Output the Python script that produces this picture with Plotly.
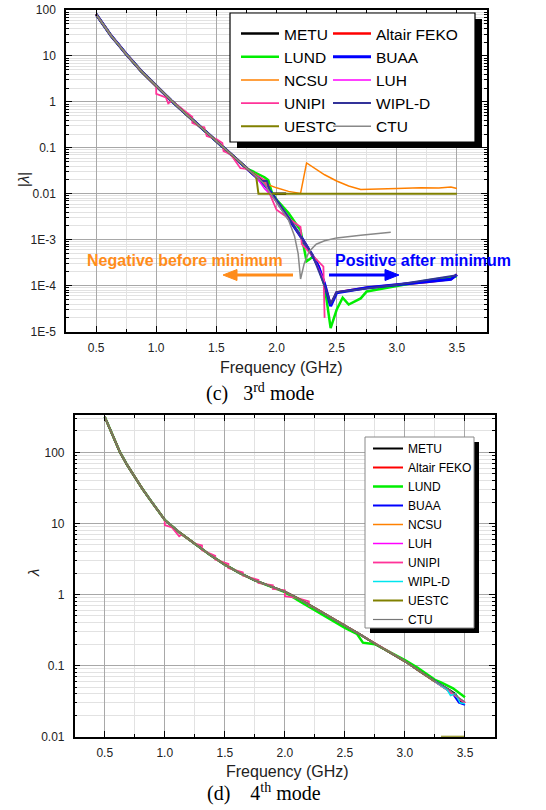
import plotly.graph_objects as go

W, H = 546, 810
FONT = "Liberation Sans, Arial, sans-serif"
SERIF = "Liberation Serif, Times New Roman, serif"

def px(x):
    return x / W

def py(y):
    return 1 - y / H

# ---------------- (c) 3rd mode : |lambda| ----------------
F_C_COMMON = [0.5, 0.5625, 0.625, 0.6875, 0.75, 0.875, 1.0, 1.125, 1.25, 1.375, 1.5, 1.625, 1.75]
L_C_COMMON = [81, 46, 27.5, 17.5, 11.0, 4.7, 2.2, 1.07, 0.54, 0.275, 0.141, 0.071, 0.0355]

F_C_METU = [1.8, 1.85, 1.88, 1.93, 1.95, 2.08]
L_C_METU = [0.028, 0.023, 0.019, 0.019, 0.01, 0.01]

F_C_FEKO = [1.8, 1.85, 1.9, 1.95, 2.0, 2.1, 2.2, 2.3, 2.35, 2.4, 2.45, 2.5, 2.75, 3.0, 3.25, 3.45, 3.5]
L_C_FEKO = [0.028, 0.021, 0.016, 0.011, 0.007, 0.003, 0.0012, 4.5e-4, 2.6e-4, 1.1e-4, 3.8e-5, 7.2e-5, 9e-5, 1.05e-4, 1.2e-4, 1.4e-4, 1.75e-4]

F_C_LUND = [1.8, 1.85, 1.9, 1.93, 1.96, 2.0, 2.1, 2.2, 2.25, 2.3, 2.33, 2.4, 2.45, 2.5, 2.55, 2.6, 2.7, 2.75, 3.0, 3.25, 3.5]
L_C_LUND = [0.031, 0.027, 0.023, 0.02, 0.011, 0.0075, 0.0038, 0.0016, 3.4e-4, 4.2e-4, 3.6e-4, 1.0e-4, 1.2e-5, 3e-5, 5.5e-5, 3.9e-5, 5.3e-5, 7.5e-5, 1.0e-4, 1.3e-4, 1.6e-4]

F_C_BUAA = [1.8, 1.85, 1.9, 1.95, 2.0, 2.1, 2.2, 2.3, 2.35, 2.4, 2.45, 2.5, 2.75, 3.0, 3.25, 3.45, 3.5]
L_C_BUAA = [0.028, 0.021, 0.016, 0.011, 0.007, 0.003, 0.0012, 4.5e-4, 2.6e-4, 1.1e-4, 3.6e-5, 7.0e-5, 9e-5, 1.05e-4, 1.2e-4, 1.38e-4, 1.75e-4]

F_C_NCSU = [1.8, 1.85, 1.9, 2.0, 2.1, 2.2, 2.25, 2.3, 2.4, 2.5, 2.6, 2.7, 2.8, 3.0, 3.2, 3.35, 3.45, 3.5]
L_C_NCSU = [0.028, 0.021, 0.017, 0.0135, 0.0113, 0.0102, 0.047, 0.038, 0.026, 0.019, 0.0148, 0.0124, 0.0125, 0.013, 0.0136, 0.0134, 0.014, 0.013]

F_C_LUH = [1.8, 1.85, 1.9, 1.95, 2.0, 2.1, 2.2, 2.3, 2.4]
L_C_LUH = [0.028, 0.02, 0.013, 0.0095, 0.007, 0.0032, 0.0012, 4.5e-4, 1.2e-4]

F_C_UNIPI = [0.5, 0.5625, 0.625, 0.6875, 0.75, 0.875, 1.0, 1.0, 1.08, 1.1, 1.13, 1.25, 1.3, 1.3, 1.37, 1.4, 1.42,
             1.5, 1.55, 1.56, 1.62, 1.7, 1.75, 1.85, 1.9, 1.92, 2.0, 2.2, 2.21, 2.3, 2.39, 2.4]
L_C_UNIPI = [81, 46, 27.5, 17.5, 11.0, 4.7, 2.19, 1.5, 1.25, 0.93, 1.05, 0.6, 0.47, 0.35, 0.29, 0.28, 0.18,
             0.155, 0.128, 0.085, 0.072, 0.036, 0.035, 0.024, 0.02, 0.014, 0.0045, 0.0019, 0.0008, 4.5e-4, 2.6e-4, 2e-5]

F_C_WIPL = [1.8, 1.85, 1.88, 1.92, 1.95, 2.0, 2.1, 2.2, 2.3, 2.4, 2.45, 2.5, 3.0, 3.5]
L_C_WIPL = [0.028, 0.022, 0.019, 0.019, 0.0105, 0.0072, 0.0031, 0.0012, 4.6e-4, 1e-4, 4e-5, 7.2e-5, 1.05e-4, 1.7e-4]

F_C_UESTC = [1.8, 1.83, 1.85, 3.5]
L_C_UESTC = [0.028, 0.025, 0.01, 0.01]

F_C_CTU = [1.8, 1.85, 1.9, 2.0, 2.1, 2.15, 2.18, 2.2, 2.23, 2.27, 2.33, 2.4, 2.5, 2.7, 2.95]
L_C_CTU = [0.028, 0.022, 0.016, 0.0065, 0.0027, 0.0012, 5e-4, 1.4e-4, 3e-4, 5.5e-4, 8e-4, 9.5e-4, 1.1e-3, 1.25e-3, 1.45e-3]

Y_C_TICKS = [1e-5, 1e-4, 1e-3, 0.01, 0.1, 1, 10, 100]
Y_C_TEXT = ["1E-5", "1E-4", "1E-3", "0.01", "0.1", "1", "10", "100"]

# ---------------- (d) 4th mode : lambda ----------------
F_D_COMMON = [0.5, 0.5625, 0.625, 0.6875, 0.75, 0.8125, 0.875, 0.9375, 1.0, 1.125, 1.25, 1.375, 1.5, 1.625,
              1.75, 1.875, 2.0, 2.125, 2.25, 2.375, 2.5, 2.625, 2.75, 2.875, 3.0, 3.125, 3.25]
L_D_COMMON = [316, 174, 102, 66, 44.7, 30.9, 21.9, 15.5, 11.2, 7.41, 5.13, 3.63, 2.63, 2.0,
              1.58, 1.32, 1.10, 0.851, 0.646, 0.49, 0.363, 0.275, 0.204, 0.155, 0.115, 0.083, 0.060]

F_D_METU = [3.375, 3.42, 3.46, 3.5]
L_D_METU = [0.045, 0.040, 0.031, 0.030]
F_D_FEKO = [3.375, 3.5]
L_D_FEKO = [0.043, 0.0295]
F_D_BUAA = [3.35, 3.4, 3.45, 3.5]
L_D_BUAA = [0.047, 0.040, 0.030, 0.028]
F_D_NCSU = [3.375, 3.5]
L_D_NCSU = [0.043, 0.030]
F_D_LUH = [3.375, 3.5]
L_D_LUH = [0.043, 0.030]
F_D_WIPL = [3.35, 3.38, 3.42, 3.46, 3.5]
L_D_WIPL = [0.046, 0.038, 0.040, 0.030, 0.029]
F_D_CTU = [3.375, 3.45, 3.5]
L_D_CTU = [0.045, 0.035, 0.031]
F_D_UESTC = [3.25, 3.3, 3.5]
L_D_UESTC = [None, 0.01, 0.01]

F_D_LUND = [0.5, 0.5625, 0.625, 0.6875, 0.75, 0.8125, 0.875, 0.9375, 1.0, 1.125, 1.25, 1.375, 1.5, 1.625,
            1.75, 1.875, 2.0, 2.125, 2.25, 2.375, 2.5, 2.6, 2.65, 2.75, 2.875, 3.0, 3.1, 3.25, 3.3, 3.4, 3.5]
L_D_LUND = [316, 174, 102, 66, 44.7, 30.9, 21.9, 15.5, 11.2, 7.41, 5.13, 3.63, 2.63, 2.0,
            1.58, 1.32, 1.08, 0.80, 0.60, 0.46, 0.34, 0.28, 0.21, 0.20, 0.155, 0.12, 0.095, 0.063, 0.058, 0.048, 0.036]

F_D_UNIPI = [0.5, 0.5625, 0.625, 0.6875, 0.75, 0.8125, 0.875, 0.9375, 1.0, 1.0, 1.06, 1.12, 1.14, 1.25, 1.31, 1.31,
             1.42, 1.42, 1.53, 1.53, 1.65, 1.65, 1.78, 1.78, 1.9, 1.9, 2.0, 2.0, 2.1, 2.2, 2.2, 2.25,
             2.375, 2.5, 2.625, 2.75, 2.875, 3.0, 3.125, 3.25, 3.375, 3.5]
L_D_UNIPI = [316, 174, 102, 66, 44.7, 30.9, 21.9, 15.5, 11.2, 9.5, 8.8, 6.6, 7.0, 5.2, 4.9, 4.2,
             3.5, 3.1, 2.7, 2.35, 2.05, 1.85, 1.6, 1.45, 1.35, 1.2, 1.15, 0.95, 0.9, 0.8, 0.7, 0.65,
             0.49, 0.363, 0.275, 0.204, 0.155, 0.115, 0.083, 0.060, 0.043, 0.030]

Y_D_TICKS = [0.01, 0.1, 1, 10, 100]
Y_D_TEXT = ["0.01", "0.1", "1", "10", "100"]

NAMES = ["METU", "Altair FEKO", "LUND", "BUAA", "NCSU", "LUH", "UNIPI", "WIPL-D", "UESTC", "CTU"]
COL_C = ["#000000", "#ff0000", "#00ee00", "#0000ff", "#ff8000", "#ff00ff", "#ff3399", "#333399", "#808000", "#888888"]
COL_D = ["#000000", "#ff0000", "#00ee00", "#0000ff", "#ff8000", "#ff00ff", "#ff3399", "#00e5ee", "#808000", "#777777"]
WID_C = [2.5, 2.5, 2.5, 3.0, 1.5, 1.5, 1.8, 2.0, 2.0, 1.5]
WID_D = [2.0, 2.0, 2.5, 2.0, 1.5, 1.5, 1.8, 1.5, 2.0, 1.2]

series_c = {
    "METU": (F_C_COMMON + F_C_METU, L_C_COMMON + L_C_METU),
    "Altair FEKO": (F_C_COMMON + F_C_FEKO, L_C_COMMON + L_C_FEKO),
    "LUND": (F_C_COMMON + F_C_LUND, L_C_COMMON + L_C_LUND),
    "BUAA": (F_C_COMMON + F_C_BUAA, L_C_COMMON + L_C_BUAA),
    "NCSU": (F_C_COMMON + F_C_NCSU, L_C_COMMON + L_C_NCSU),
    "LUH": (F_C_COMMON + F_C_LUH, L_C_COMMON + L_C_LUH),
    "UNIPI": (F_C_UNIPI, L_C_UNIPI),
    "WIPL-D": (F_C_COMMON + F_C_WIPL, L_C_COMMON + L_C_WIPL),
    "UESTC": (F_C_COMMON + F_C_UESTC, L_C_COMMON + L_C_UESTC),
    "CTU": (F_C_COMMON + F_C_CTU, L_C_COMMON + L_C_CTU),
}
series_d = {
    "METU": (F_D_COMMON + F_D_METU, L_D_COMMON + L_D_METU),
    "Altair FEKO": (F_D_COMMON + F_D_FEKO, L_D_COMMON + L_D_FEKO),
    "LUND": (F_D_LUND, L_D_LUND),
    "BUAA": (F_D_COMMON + F_D_BUAA, L_D_COMMON + L_D_BUAA),
    "NCSU": (F_D_COMMON + F_D_NCSU, L_D_COMMON + L_D_NCSU),
    "LUH": (F_D_COMMON + F_D_LUH, L_D_COMMON + L_D_LUH),
    "UNIPI": (F_D_UNIPI, L_D_UNIPI),
    "WIPL-D": (F_D_COMMON + F_D_WIPL, L_D_COMMON + L_D_WIPL),
    "UESTC": (F_D_COMMON + F_D_UESTC, L_D_COMMON + L_D_UESTC),
    "CTU": (F_D_COMMON + F_D_CTU, L_D_COMMON + L_D_CTU),
}

LEFT_COL = {"METU", "LUND", "NCSU", "UNIPI", "UESTC"}

fig = go.Figure()
for i, n in enumerate(NAMES):
    fx, fy = series_c[n]
    fig.add_trace(go.Scatter(
        x=fx, y=fy, mode="lines", name=n, xaxis="x", yaxis="y",
        line=dict(color=COL_C[i], width=WID_C[i]),
        legend="legend" if n in LEFT_COL else "legend2",
        connectgaps=False,
    ))
for i, n in enumerate(NAMES):
    fx, fy = series_d[n]
    fig.add_trace(go.Scatter(
        x=fx, y=fy, mode="lines", name=n, xaxis="x2", yaxis="y2",
        line=dict(color=COL_D[i], width=WID_D[i]),
        legend="legend3", connectgaps=False,
    ))

GRID = "#a8a8a8"
MINGRID = "#e2e2e2"
tickfont = dict(family=FONT, size=12, color="#222222")

def xax(domain, anchor):
    return dict(
        domain=domain, anchor=anchor, range=[0.25, 3.75], tick0=0.5, dtick=0.5, tickformat=".1f",
        ticks="inside", ticklen=6, tickwidth=1, tickcolor="#000000",
        showline=True, linecolor="#000000", linewidth=1.5, mirror="allticks",
        showgrid=True, gridcolor=GRID, gridwidth=1, zeroline=False, automargin=False,
        tickfont=tickfont, ticklabelstandoff=4, ticklabeloverflow="allow",
        minor=dict(tick0=0.25, dtick=0.25, ticks="inside", ticklen=3, tickcolor="#000000",
                   showgrid=True, gridcolor=MINGRID, gridwidth=1),
    )

def yax(domain, anchor, rng, tv, tt):
    return dict(
        domain=domain, anchor=anchor, type="log", range=rng, tickmode="array", tickvals=tv, ticktext=tt,
        ticks="inside", ticklen=6, tickwidth=1, tickcolor="#000000",
        showline=True, linecolor="#000000", linewidth=1.5, mirror="allticks",
        showgrid=True, gridcolor=GRID, gridwidth=1, zeroline=False, automargin=False,
        tickfont=tickfont, ticklabelstandoff=6, ticklabeloverflow="allow",
        minor=dict(dtick="D1", ticks="inside", ticklen=3, tickcolor="#000000",
                   showgrid=True, gridcolor=MINGRID, gridwidth=1),
    )

leg_font = dict(family=FONT, size=15.5, color="#000000")

fig.update_layout(
    width=W, height=H, margin=dict(l=0, r=0, t=0, b=0, pad=0, autoexpand=False),
    paper_bgcolor="#ffffff", plot_bgcolor="#ffffff",
    xaxis=xax([px(66), px(487)], "y"),
    yaxis=yax([py(331.7), py(10)], "x", [-5, 2], Y_C_TICKS, Y_C_TEXT),
    xaxis2=xax([px(74.7), px(495)], "y2"),
    yaxis2=yax([py(736.7), py(415)], "x2", [-2, 2.525], Y_D_TICKS, Y_D_TEXT),
    legend=dict(x=px(236), y=py(17), xanchor="left", yanchor="top", bgcolor="rgba(0,0,0,0)",
                borderwidth=0, font=leg_font, itemwidth=38, tracegroupgap=0),
    legend2=dict(x=px(328), y=py(17), xanchor="left", yanchor="top", bgcolor="rgba(0,0,0,0)",
                 borderwidth=0, font=leg_font, itemwidth=38, tracegroupgap=0),
    legend3=dict(x=px(368), y=py(434), xanchor="left", yanchor="top", bgcolor="rgba(0,0,0,0)",
                 borderwidth=0, font=dict(family=FONT, size=12, color="#000000"), itemwidth=30,
                 tracegroupgap=0),
    showlegend=True,
)

def tri(tip_x, tip_y, back_x, half_h):
    return (f"M {px(tip_x)},{py(tip_y)} L {px(back_x)},{py(tip_y - half_h)} "
            f"L {px(back_x)},{py(tip_y + half_h)} Z")

shapes = [
    # legend (c): shadow + box
    dict(type="rect", xref="paper", yref="paper", x0=px(237), x1=px(482), y0=py(148), y1=py(19),
         fillcolor="#000000", line=dict(width=0), layer="above"),
    dict(type="rect", xref="paper", yref="paper", x0=px(230), x1=px(475), y0=py(142), y1=py(13),
         fillcolor="#ffffff", line=dict(color="#000000", width=1.2), layer="above"),
    # legend (d): shadow + box
    dict(type="rect", xref="paper", yref="paper", x0=px(370), x1=px(479), y0=py(633), y1=py(442),
         fillcolor="#000000", line=dict(width=0), layer="above"),
    dict(type="rect", xref="paper", yref="paper", x0=px(365), x1=px(474), y0=py(628), y1=py(437),
         fillcolor="#ffffff", line=dict(color="#888888", width=1), layer="above"),
    # arrows
    dict(type="line", xref="paper", yref="paper", x0=px(293), x1=px(234), y0=py(275), y1=py(275),
         line=dict(color="#ff8c1a", width=3), layer="above"),
    dict(type="path", xref="paper", yref="paper", path=tri(223, 275, 237, 5.5),
         fillcolor="#ff8c1a", line=dict(color="#ff8c1a", width=1), layer="above"),
    dict(type="line", xref="paper", yref="paper", x0=px(329), x1=px(388), y0=py(275), y1=py(275),
         line=dict(color="#0000ff", width=3), layer="above"),
    dict(type="path", xref="paper", yref="paper", path=tri(399, 275, 385, 5.5),
         fillcolor="#0000ff", line=dict(color="#0000ff", width=1), layer="above"),
]
fig.update_layout(shapes=shapes)

def note(text, x, y, size, color, family=FONT, angle=0):
    return dict(text=text, x=px(x), y=py(y), xref="paper", yref="paper", xanchor="center",
                yanchor="middle", textangle=angle, showarrow=False,
                font=dict(family=family, size=size, color=color))

ann = [
    note("Frequency (GHz)", 281, 367, 16, "#222222"),
    note("Frequency (GHz)", 287, 771, 16, "#222222"),
    note("|<i>λ</i>|", 23, 180, 15, "#222222", angle=-90),
    note("<i>λ</i>", 33, 573, 15, "#222222", angle=-90),
    note("(c)   3<sup>rd</sup> mode", 260, 392, 20, "#000000", family=SERIF),
    note("(d)    4<sup>th</sup> mode", 264, 792, 20, "#000000", family=SERIF),
    note("<b>Negative before minimum</b>", 185, 260, 16, "#ff8c1a"),
    note("<b>Positive after minimum</b>", 423, 260, 16, "#0000ff"),
]
fig.update_layout(annotations=ann)

# remove the browser's default 8px body margin so the 546x810 figure fills the window exactly
fig.write_html("out.html", config={"displayModeBar": False},
               post_script="document.body.style.margin='0';")
